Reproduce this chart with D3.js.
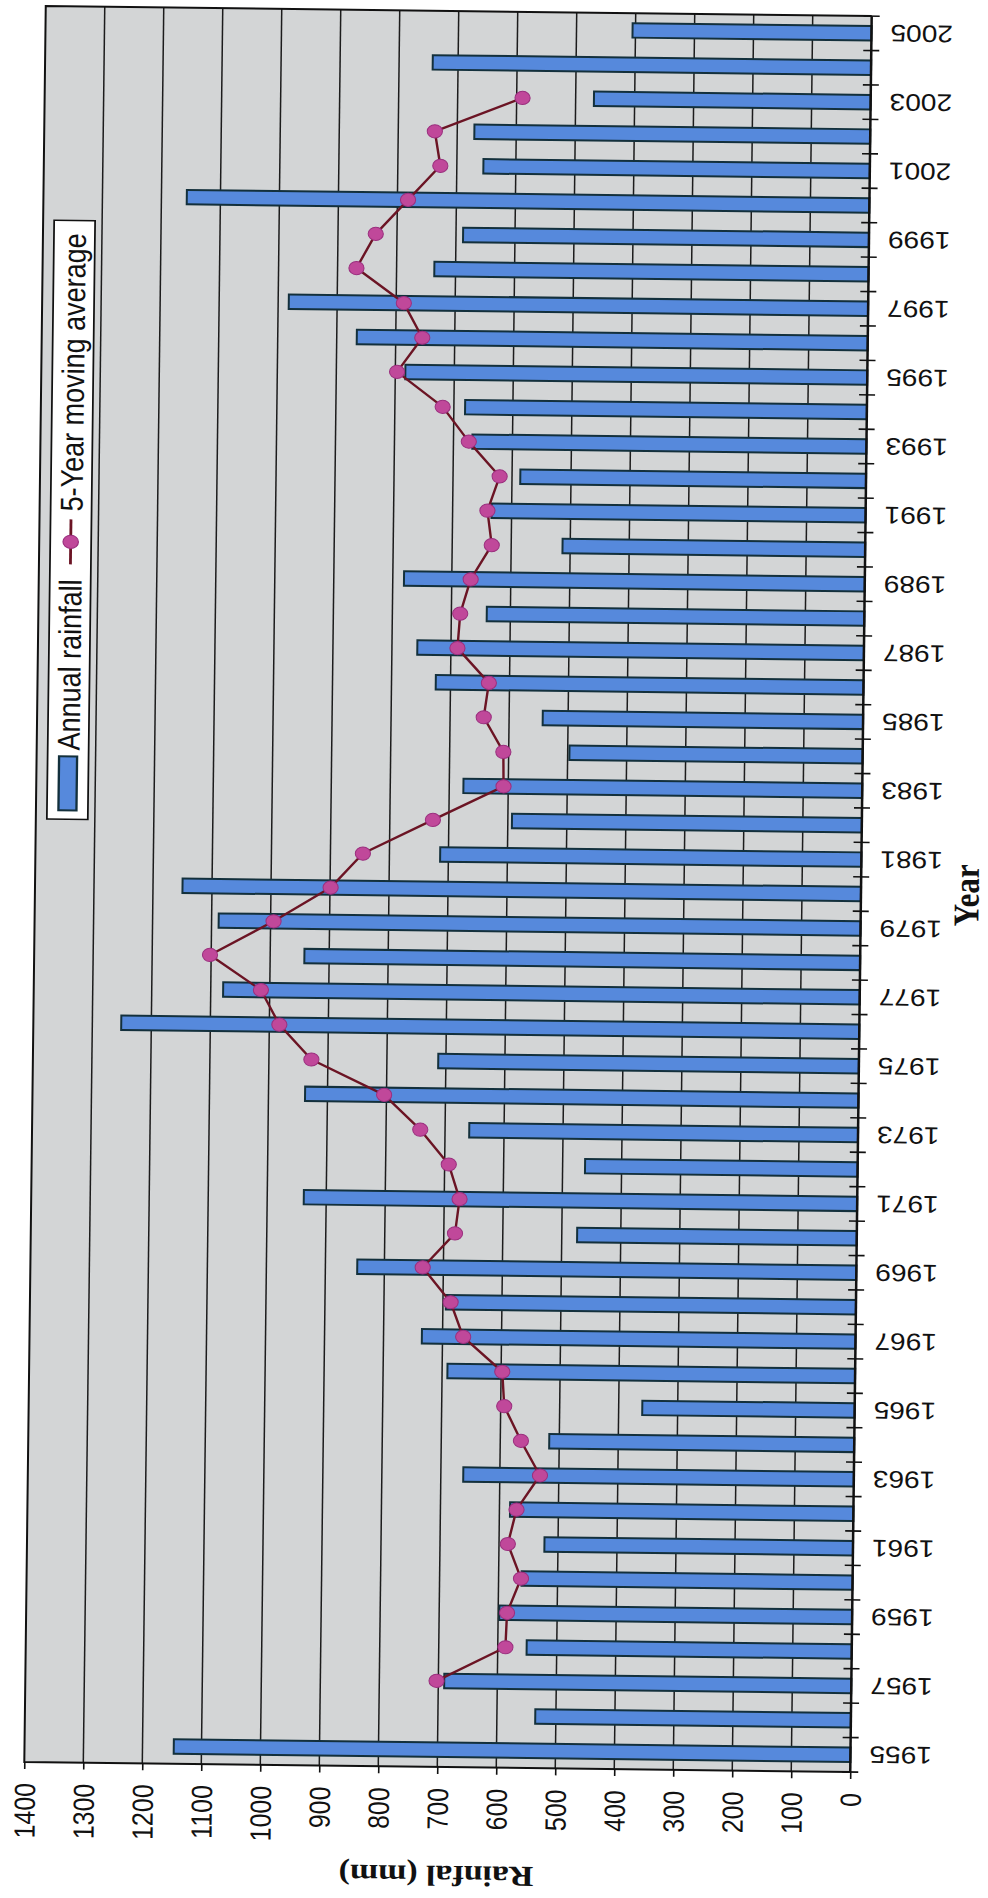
<!DOCTYPE html>
<html>
<head>
<meta charset="utf-8">
<script src="https://cdn.jsdelivr.net/npm/d3@7"></script>
<style>
html,body{margin:0;padding:0;background:#ffffff;}
svg{display:block;}
</style>
</head>
<body>
<svg id="chart" width="988" height="1898"></svg>
<script>
// ---------------- data ----------------
const years = [1955,1956,1957,1958,1959,1960,1961,1962,1963,1964,1965,1966,1967,1968,1969,1970,
  1971,1972,1973,1974,1975,1976,1977,1978,1979,1980,1981,1982,1983,1984,1985,1986,1987,1988,1989,
  1990,1991,1992,1993,1994,1995,1996,1997,1998,1999,2000,2001,2002,2003,2004,2005];
const rainfall = [1147,535,690,551,598,561,523,582,662,517,360,691,735,695,846,474,
  938,462,659,938,713,1251,1079,942,1088,1150,714,593,676,497,543,725,757,640,781,
  513,634,586,668,681,783,866,982,736,688,1157,655,671,469,743,405];
const maYears = [1957,1958,1959,1960,1961,1962,1963,1964,1965,1966,1967,1968,1969,1970,
  1971,1972,1973,1974,1975,1976,1977,1978,1979,1980,1981,1982,1983,1984,1985,1986,1987,1988,1989,
  1990,1991,1992,1993,1994,1995,1996,1997,1998,1999,2000,2001,2002,2003];
const movingAverage = [703,587,585,562,585,571,532,565,594,598,665,687,735,681,
  674,693,742,804,928,983,1015,1102,995,899,845,727,608,609,643,635,689,685,668,
  633,641,621,674,719,797,755,787,868,836,782,728,738,590];
const valueTicks = [0,100,200,300,400,500,600,700,800,900,1000,1100,1200,1300,1400];
const yearTickLabels = [1955,1957,1959,1961,1963,1965,1967,1969,1971,1973,1975,1977,1979,
  1981,1983,1985,1987,1989,1991,1993,1995,1997,1999,2001,2003,2005];
const legendLabels = ["Annual rainfall", "5-Year moving average"];
const valueTitle = "Rainfal (mm)";
const categoryTitle = "Year";

// ---------------- layout ----------------
const L = 35, R = 861, T = 11, B = 1767;   // plot area (before scan tilt)
const TILT = 0.7, CX = 448, CY = 889;      // scan tilt
const SX = 1.17;                           // horizontal stretch of the scanned glyphs
const SANS = "'Liberation Sans', Arial, sans-serif";
const SERIF = "'Liberation Serif', 'Times New Roman', serif";

const svg = d3.select("#chart");
const g = svg.append("g").attr("transform", `rotate(${TILT},${CX},${CY})`);

const x = d3.scaleLinear().domain([0, 1400]).range([R, L]);
const y = d3.scaleBand().domain(years.slice().reverse()).range([T, B])
  .paddingInner(0.58).paddingOuter(0.29);
const yMid = d => y(d) + y.bandwidth() / 2;

// plot background
g.append("rect").attr("x", L).attr("y", T).attr("width", R - L).attr("height", B - T)
  .attr("fill", "#d3d5d6");

// vertical gridlines
g.append("g").selectAll("line")
  .data(valueTicks.filter(v => v > 0 && v < 1400))
  .join("line")
  .attr("x1", d => x(d)).attr("x2", d => x(d))
  .attr("y1", T).attr("y2", B)
  .attr("stroke", "#1c1c1c").attr("stroke-width", 1.5);

// bars
g.append("g").selectAll("rect")
  .data(years)
  .join("rect")
  .attr("x", (d, i) => x(rainfall[i]))
  .attr("y", d => y(d))
  .attr("width", (d, i) => x(0) - x(rainfall[i]))
  .attr("height", y.bandwidth())
  .attr("fill", "#5689dc")
  .attr("stroke", "#13303c")
  .attr("stroke-width", 2);

// plot border (top, left, bottom)
g.append("path")
  .attr("d", `M${R},${T}H${L}V${B}H${R}`)
  .attr("fill", "none").attr("stroke", "#111").attr("stroke-width", 2);

// moving average line
const line = d3.line()
  .x((d, i) => x(movingAverage[i]))
  .y(d => yMid(d));
g.append("path").datum(maYears)
  .attr("d", line)
  .attr("fill", "none").attr("stroke", "#6b1424").attr("stroke-width", 2.4)
  .attr("stroke-linejoin", "round");
g.append("g").selectAll("ellipse")
  .data(maYears)
  .join("ellipse")
  .attr("cx", (d, i) => x(movingAverage[i]))
  .attr("cy", d => yMid(d))
  .attr("rx", 7.6).attr("ry", 6.6)
  .attr("fill", "#c0489a").attr("stroke", "#9a2f7e").attr("stroke-width", 1);

// value axis (bottom)
const xAxis = g.append("g").attr("transform", `translate(0,${B})`)
  .call(d3.axisBottom(x).tickValues(valueTicks).tickFormat(d3.format("d"))
    .tickSize(7).tickSizeOuter(0));
xAxis.select(".domain").remove();
xAxis.selectAll(".tick line").attr("stroke", "#111").attr("stroke-width", 1.6);
xAxis.selectAll(".tick text")
  .attr("x", 0).attr("y", 0).attr("dy", "0.36em")
  .attr("text-anchor", "end")
  .attr("transform", `translate(0,21) scale(${SX},1) rotate(-90)`)
  .attr("font-family", SANS).attr("font-size", 25).attr("fill", "#111");

// category axis (right)
g.append("line").attr("x1", R).attr("x2", R).attr("y1", T).attr("y2", B)
  .attr("stroke", "#111").attr("stroke-width", 2.5);
g.append("g").selectAll("line")
  .data(d3.range(years.length + 1))
  .join("line")
  .attr("x1", R - 8).attr("x2", R + 8)
  .attr("y1", i => T + i * y.step()).attr("y2", i => T + i * y.step())
  .attr("stroke", "#111").attr("stroke-width", 1.6);
const yAxis = g.append("g").attr("transform", `translate(${R},0)`)
  .call(d3.axisRight(y).tickValues(yearTickLabels).tickFormat(d3.format("d")).tickSize(0));
yAxis.select(".domain").remove();
yAxis.selectAll(".tick text")
  .attr("x", 0).attr("y", 0).attr("dy", "0.36em")
  .attr("text-anchor", "end")
  .attr("transform", `translate(19,0) scale(${SX},1) rotate(180)`)
  .attr("font-family", SANS).attr("font-size", 24).attr("fill", "#111");

// axis titles
g.append("text").text(valueTitle)
  .attr("transform", `translate(${(L + R) / 2},1876) scale(${SX},1) rotate(180)`)
  .attr("text-anchor", "middle").attr("dy", "0.35em")
  .attr("font-family", SERIF).attr("font-weight", "bold").attr("font-size", 29).attr("fill", "#111");
g.append("text").text(categoryTitle)
  .attr("transform", `translate(966,889) scale(${SX},1) rotate(-90)`)
  .attr("text-anchor", "middle").attr("dy", "0.35em")
  .attr("font-family", SERIF).attr("font-weight", "bold").attr("font-size", 31).attr("fill", "#111");

// legend (drawn horizontally, then turned to read bottom-to-top)
const lg = g.append("g").attr("transform", `translate(66.5,824) scale(${SX},1) rotate(-90)`);
lg.append("rect").attr("x", 0).attr("y", -17.5).attr("width", 599).attr("height", 35)
  .attr("fill", "#ffffff").attr("stroke", "#111").attr("stroke-width", 1.5);
lg.append("rect").attr("x", 9).attr("y", -7.7).attr("width", 54).attr("height", 15.4)
  .attr("fill", "#5689dc").attr("stroke", "#13303c").attr("stroke-width", 2);
lg.append("text").text(legendLabels[0]).attr("x", 69).attr("y", 0).attr("dy", "0.36em")
  .attr("font-family", SANS).attr("font-size", 27).attr("fill", "#111");
lg.append("line").attr("x1", 255).attr("x2", 300).attr("y1", 0).attr("y2", 0)
  .attr("stroke", "#6b1424").attr("stroke-width", 2.4);
lg.append("circle").attr("cx", 277.5).attr("cy", 0).attr("r", 6.6)
  .attr("fill", "#c0489a").attr("stroke", "#9a2f7e").attr("stroke-width", 1);
lg.append("text").text(legendLabels[1]).attr("x", 308).attr("y", 0).attr("dy", "0.36em")
  .attr("font-family", SANS).attr("font-size", 27).attr("fill", "#111");
</script>
</body>
</html>
